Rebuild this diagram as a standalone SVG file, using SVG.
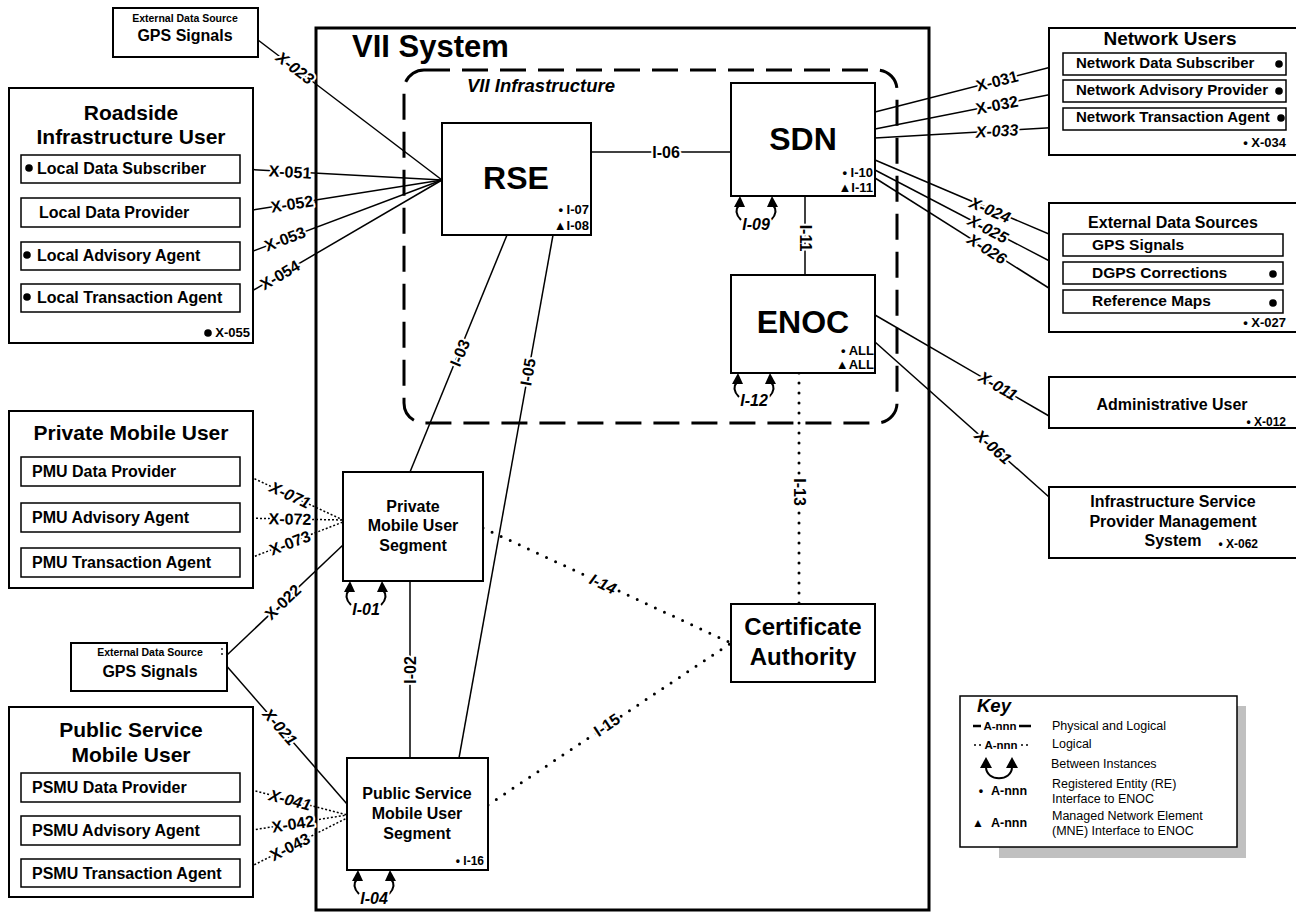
<svg xmlns="http://www.w3.org/2000/svg" xmlns:xlink="http://www.w3.org/1999/xlink" width="1296" height="912" viewBox="0 0 1296 912">
<style>
text { font-family: "Liberation Sans", Arial, Helvetica, sans-serif; font-weight: bold; fill: #000; }
.n { fill: #fff; stroke: #000; stroke-width: 2; }
.s { fill: #fff; stroke: #000; stroke-width: 1.5; }
.sub { font-size: 16px; }
.ttl { font-size: 21px; text-anchor: middle; }
.big { font-size: 32px; text-anchor: middle; }
.mid { font-size: 16px; text-anchor: middle; }
.sm { font-size: 13px; text-anchor: end; }
.c { text-anchor: middle; }
.ln { fill: none; stroke: #000; stroke-width: 1.5; }
.dt { fill: none; stroke: #000; stroke-width: 1.5; stroke-dasharray: 2 2; }
.rd { fill: none; stroke: #000; stroke-width: 3; stroke-linecap: round; stroke-dasharray: 0 10; }
.lbl { font-size: 16px; text-anchor: middle; dominant-baseline: central; stroke: #fff; stroke-width: 4px; paint-order: stroke; stroke-linejoin: round; }
.it { font-style: italic; }
.lp { fill: none; stroke: #000; stroke-width: 2; }
.key { font-size: 12.5px; font-weight: normal; }
</style>
<defs>
<g id="loop">
<path class="lp" d="M0,9 Q-6,16 2,24"/>
<path class="lp" d="M34,9 Q40,16 32,24"/>
<path d="M1,0 L-5,11 L6,11 Z"/>
<path d="M33,0 L28,11 L39,11 Z"/>
</g>
</defs>
<rect width="1296" height="912" fill="#fff"/>

<g id="vii-system">
<rect x="316" y="28" width="613" height="882" fill="none" stroke="#000" stroke-width="3"/>
<text x="352" y="57" style="font-size:31px">VII System</text>
</g>
<g id="vii-infrastructure">
<rect x="404" y="70" width="493" height="353" rx="20" fill="none" stroke="#000" stroke-width="3" stroke-dasharray="26 12"/>
<text x="467" y="92" class="it" style="font-size:18.5px">VII Infrastructure</text>
</g>

<g id="connectors">
<path class="ln" d="M591,152 H731"/>
<path class="ln" d="M805,196 V275"/>
<path class="rd" d="M799,373 V604"/>
<path class="ln" d="M507,235 L410,472"/>
<path class="ln" d="M553,235 L459,758"/>
<path class="ln" d="M410,581 V758"/>
<path class="rd" d="M483,528 L731,643"/>
<path class="rd" d="M488,805 L731,643"/>
<path class="ln" d="M258,40 L442,180"/>
<path class="ln" d="M240,169 L442,180"/>
<path class="ln" d="M240,212 L442,180"/>
<path class="ln" d="M240,256 L442,180"/>
<path class="ln" d="M240,298 L442,180"/>
<path class="dt" d="M240,472 L343,520"/>
<path class="dt" d="M240,518 L343,520"/>
<path class="dt" d="M240,562 L343,522"/>
<path class="ln" d="M227,655 L343,545"/>
<path class="ln" d="M224,663 L347,804"/>
<path class="dt" d="M240,787 L347,815"/>
<path class="dt" d="M240,832 L347,815"/>
<path class="dt" d="M240,872 L347,818"/>
<path class="ln" d="M875,112 L1063,64"/>
<path class="ln" d="M875,129 L1063,92"/>
<path class="ln" d="M875,138 L1063,127"/>
<path class="ln" d="M875,160 L1063,240"/>
<path class="ln" d="M875,170 L1063,268"/>
<path class="ln" d="M875,178 L1063,297"/>
<path class="ln" d="M875,315 L1049,416"/>
<path class="ln" d="M875,342 L1049,497"/>
<use xlink:href="#loop" href="#loop" transform="translate(739,196)"/>
<use xlink:href="#loop" href="#loop" transform="translate(737,373)"/>
<use xlink:href="#loop" href="#loop" transform="translate(349,581)"/>
<use xlink:href="#loop" href="#loop" transform="translate(357,870)"/>

<text class="lbl" transform="translate(666,152)">I-06</text>
<text class="lbl" transform="translate(805,238) rotate(90)">I-11</text>
<text class="lbl" transform="translate(799,492) rotate(90)">I-13</text>
<text class="lbl" transform="translate(460,353) rotate(-67.7)">I-03</text>
<text class="lbl" transform="translate(528,372) rotate(-79.8)">I-05</text>
<text class="lbl" transform="translate(410,670) rotate(-90)">I-02</text>
<text class="lbl it" transform="translate(603,584) rotate(24.9)">I-14</text>
<text class="lbl" transform="translate(607,725) rotate(-33.7)">I-15</text>
<text class="lbl it" transform="translate(756,224)">I-09</text>
<text class="lbl it" transform="translate(754,400)">I-12</text>
<text class="lbl it" transform="translate(366,609)">I-01</text>
<text class="lbl it" transform="translate(374,898)">I-04</text>
<text class="lbl it" transform="translate(295,68) rotate(37.3)">X-023</text>
<text class="lbl" transform="translate(290,172) rotate(3.1)">X-051</text>
<text class="lbl" transform="translate(292,204) rotate(-9)">X-052</text>
<text class="lbl" transform="translate(285,239) rotate(-20.6)">X-053</text>
<text class="lbl" transform="translate(280,275) rotate(-30.3)">X-054</text>
<text class="lbl it" transform="translate(290,495) rotate(25)">X-071</text>
<text class="lbl" transform="translate(290,519) rotate(1)">X-072</text>
<text class="lbl" transform="translate(290,543) rotate(-21)">X-073</text>
<text class="lbl" transform="translate(283,602) rotate(-43.5)">X-022</text>
<text class="lbl it" transform="translate(280,727) rotate(48.9)">X-021</text>
<text class="lbl it" transform="translate(290,800) rotate(14.7)">X-041</text>
<text class="lbl" transform="translate(293,824) rotate(-9)">X-042</text>
<text class="lbl" transform="translate(290,847) rotate(-26.8)">X-043</text>
<text class="lbl" transform="translate(997,81) rotate(-14.3)">X-031</text>
<text class="lbl" transform="translate(997,105) rotate(-11.1)">X-032</text>
<text class="lbl it" transform="translate(997,131) rotate(-3.3)">X-033</text>
<text class="lbl it" transform="translate(990,210) rotate(23)">X-024</text>
<text class="lbl it" transform="translate(988,229) rotate(27.5)">X-025</text>
<text class="lbl it" transform="translate(987,249) rotate(32.3)">X-026</text>
<text class="lbl it" transform="translate(998,386) rotate(30.1)">X-011</text>
<text class="lbl it" transform="translate(993,447) rotate(41.7)">X-061</text>
</g>

<g id="gps-top">
<rect class="n" x="113" y="8" width="145" height="49"/>
<text x="185" y="22" class="c" style="font-size:10.5px">External Data Source</text>
<text x="185" y="41" class="mid">GPS Signals</text>
</g>

<g id="roadside-user">
<rect class="n" x="9" y="88" width="244" height="255"/>
<text x="131" y="120" class="ttl">Roadside</text>
<text x="131" y="144" class="ttl">Infrastructure User</text>
<rect class="s" x="21" y="155" width="219" height="28"/>
<circle cx="29" cy="168" r="3.8"/>
<text x="37" y="174" class="sub">Local Data Subscriber</text>
<rect class="s" x="21" y="198" width="219" height="29"/>
<text x="39" y="218" class="sub">Local Data Provider</text>
<rect class="s" x="21" y="242" width="219" height="28"/>
<circle cx="27" cy="255" r="3.8"/>
<text x="37" y="261" class="sub">Local Advisory Agent</text>
<rect class="s" x="21" y="284" width="219" height="28"/>
<circle cx="27" cy="297" r="3.8"/>
<text x="37" y="303" class="sub">Local Transaction Agent</text>
<circle cx="208" cy="333" r="3.8"/>
<text x="250" y="337" class="sm">X-055</text>
</g>

<g id="private-mobile-user">
<rect class="n" x="9" y="411" width="244" height="177"/>
<text x="131" y="440" class="ttl">Private Mobile User</text>
<rect class="s" x="21" y="457" width="219" height="29"/>
<text x="32" y="477" class="sub">PMU Data Provider</text>
<rect class="s" x="21" y="503" width="219" height="29"/>
<text x="32" y="523" class="sub">PMU Advisory Agent</text>
<rect class="s" x="21" y="548" width="219" height="29"/>
<text x="32" y="568" class="sub">PMU Transaction Agent</text>
</g>

<g id="gps-low">
<rect class="n" x="71" y="643" width="156" height="48"/>
<text x="150" y="656" class="c" style="font-size:10.5px">External Data Source</text>
<text x="150" y="677" class="mid">GPS Signals</text>
<circle cx="222" cy="649" r="0.9"/>
<circle cx="222" cy="654" r="0.9"/>
</g>

<g id="public-service-mobile-user">
<rect class="n" x="9" y="707" width="244" height="190"/>
<text x="131" y="737" class="ttl">Public Service</text>
<text x="131" y="762" class="ttl">Mobile User</text>
<rect class="s" x="21" y="773" width="219" height="29"/>
<text x="32" y="793" class="sub">PSMU Data Provider</text>
<rect class="s" x="21" y="816" width="219" height="29"/>
<text x="32" y="836" class="sub">PSMU Advisory Agent</text>
<rect class="s" x="21" y="859" width="219" height="28"/>
<text x="32" y="879" class="sub">PSMU Transaction Agent</text>
</g>

<g id="rse">
<rect class="n" x="442" y="123" width="149" height="112"/>
<text x="516" y="189" class="big">RSE</text>
<text x="589" y="214" class="sm">• I-07</text>
<text x="589" y="230" class="sm">▲I-08</text>
</g>

<g id="sdn">
<rect class="n" x="731" y="83" width="144" height="113"/>
<text x="803" y="150" class="big">SDN</text>
<text x="873" y="177" class="sm">• I-10</text>
<text x="873" y="192" class="sm">▲I-11</text>
</g>

<g id="enoc">
<rect class="n" x="731" y="275" width="144" height="98"/>
<text x="803" y="333" class="big">ENOC</text>
<text x="874" y="355" class="sm">• ALL</text>
<text x="874" y="369" class="sm">▲ALL</text>
</g>

<g id="certificate-authority">
<rect class="n" x="731" y="604" width="144" height="78"/>
<text x="803" y="635" class="c" style="font-size:24px">Certificate</text>
<text x="803" y="665" class="c" style="font-size:24px">Authority</text>
</g>

<g id="pmu-segment">
<rect class="n" x="343" y="472" width="140" height="109"/>
<text x="413" y="512" class="mid">Private</text>
<text x="413" y="531" class="mid">Mobile User</text>
<text x="413" y="551" class="mid">Segment</text>
</g>

<g id="psmu-segment">
<rect class="n" x="347" y="758" width="141" height="112"/>
<text x="417" y="799" class="mid">Public Service</text>
<text x="417" y="819" class="mid">Mobile User</text>
<text x="417" y="839" class="mid">Segment</text>
<text x="484" y="865" class="sm" style="font-size:12px">• I-16</text>
</g>

<g id="network-users">
<rect class="n" x="1049" y="28" width="260" height="127"/>
<text x="1170" y="45" class="c" style="font-size:19px">Network Users</text>
<rect class="s" x="1063" y="53" width="223" height="22"/>
<text x="1076" y="68" style="font-size:15px">Network Data Subscriber</text>
<circle cx="1279" cy="64" r="3.8"/>
<rect class="s" x="1063" y="80" width="223" height="22"/>
<text x="1076" y="95" style="font-size:15px">Network Advisory Provider</text>
<circle cx="1279" cy="91" r="3.8"/>
<rect class="s" x="1063" y="108" width="223" height="22"/>
<text x="1076" y="122" style="font-size:15px">Network Transaction Agent</text>
<circle cx="1281" cy="118" r="3.8"/>
<text x="1286" y="147" class="sm">•  X-034</text>
</g>

<g id="external-data-sources">
<rect class="n" x="1049" y="203" width="260" height="129"/>
<text x="1173" y="228" class="c" style="font-size:16px">External Data Sources</text>
<rect class="s" x="1063" y="234" width="220" height="22"/>
<text x="1092" y="250" style="font-size:15.5px">GPS Signals</text>
<rect class="s" x="1063" y="262" width="220" height="22"/>
<text x="1092" y="278" style="font-size:15.5px">DGPS Corrections</text>
<circle cx="1273" cy="274" r="3.8"/>
<rect class="s" x="1063" y="290" width="220" height="23"/>
<text x="1092" y="306" style="font-size:15.5px">Reference Maps</text>
<circle cx="1273" cy="303" r="3.8"/>
<text x="1286" y="327" class="sm">• X-027</text>
</g>

<g id="administrative-user">
<rect class="n" x="1049" y="377" width="260" height="51"/>
<text x="1172" y="410" class="mid">Administrative User</text>
<text x="1286" y="426" class="sm" style="font-size:12px">• X-012</text>
</g>

<g id="isp-management-system">
<rect class="n" x="1049" y="487" width="260" height="71"/>
<text x="1173" y="507" class="mid">Infrastructure Service</text>
<text x="1173" y="527" class="mid">Provider Management</text>
<text x="1173" y="546" class="mid">System</text>
<text x="1258" y="548" class="sm" style="font-size:12px">• X-062</text>
</g>

<g id="key">
<rect x="999" y="706" width="247" height="152" fill="#c0c0c0"/>
<rect x="960" y="696" width="277" height="151" fill="#fff" stroke="#000" stroke-width="1.5"/>
<text x="977" y="712" class="it" style="font-size:18.5px">Key</text>
<path d="M973,726 H981 M1019,726 H1031" stroke="#000" stroke-width="2.5"/>
<text x="1000" y="730" class="c" style="font-size:11.5px">A-nnn</text>
<text x="1052" y="730" class="key">Physical and Logical</text>
<circle cx="975" cy="745" r="1"/><circle cx="980" cy="745" r="1"/>
<circle cx="1022" cy="745" r="1"/><circle cx="1027" cy="745" r="1"/>
<text x="1001" y="749" class="c" style="font-size:11.5px">A-nnn</text>
<text x="1052" y="748" class="key">Logical</text>
<path class="lp" d="M986,767 C986,782 1012,782 1012,767"/>
<path d="M986,757 L980,768 L992,768 Z"/>
<path d="M1012,757 L1006,768 L1018,768 Z"/>
<text x="1051" y="768" class="key">Between Instances</text>
<text x="981" y="795" class="c" style="font-size:12.5px">•</text>
<text x="991" y="795" style="font-size:12.5px">A-nnn</text>
<text x="1052" y="788" class="key">Registered Entity (RE)</text>
<text x="1052" y="803" class="key">Interface to ENOC</text>
<text x="978" y="827" class="c" style="font-size:12px">▲</text>
<text x="991" y="827" style="font-size:12.5px">A-nnn</text>
<text x="1052" y="820" class="key">Managed Network Element</text>
<text x="1052" y="835" class="key">(MNE) Interface to ENOC</text>
</g>
</svg>
